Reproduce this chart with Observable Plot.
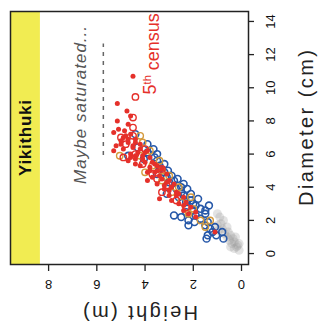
<!DOCTYPE html>
<html><head><meta charset="utf-8">
<script src="https://cdn.jsdelivr.net/npm/d3@7"></script>
<script src="https://cdn.jsdelivr.net/npm/@observablehq/plot@0.6"></script>
<style>
html,body{margin:0;padding:0;background:#fff;}
#wrap{position:relative;width:324px;height:334px;overflow:hidden;background:#fff;}
#wrap svg{position:absolute;left:-5px;top:5px;width:334px;height:324px;max-width:none !important;transform:rotate(-90deg);transform-origin:50% 50%;}
</style></head><body><div id="wrap"></div>
<script>
// Axis ticks
const diamTicks = [0, 2, 4, 6, 8, 10, 12, 14];
const heightTicks = [0, 2, 4, 6, 8];
const xDomain = [-0.66, 14.6];
const yDomain = [-0.29, 9.58];
const stripFrom = 8.34;          // yellow site strip (height)
const satHeight = 5.73;          // "maybe saturated" line
const satDiam = [5.97, 12.7];

// Censuses: [diameter (cm), height (m)]
const census1 = [[0.2,0.1],[0.3,0.3],[0.4,0.2],[0.5,0.15],[0.6,0.4],[0.7,0.3],[0.8,0.5],[0.9,0.35],[1.0,0.6],[1.1,0.45],[1.2,0.7],[1.3,0.55],[1.5,0.8],[1.6,0.6],[1.8,0.85],[2.0,0.75],[2.2,0.9],[0.4,0.45],[1.4,0.95],[0.6,0.1],[1.0,0.25],[1.7,1.0],[2.4,1.0]];
const census2 = [[0.9,0.75],[0.9,1.45],[1.1,1.05],[1.3,1.2],[1.3,0.8],[1.6,1.1],[1.7,1.5],[1.7,2.2],[1.9,1.95],[2.1,1.7],[2.2,2.5],[2.4,1.5],[2.6,1.5],[2.6,2.0],[2.9,1.35],[2.9,1.9],[3.1,2.3],[3.3,1.8],[3.4,2.6],[3.6,2.1],[3.9,2.25],[3.9,2.7],[4.2,2.4],[4.3,3.0],[4.5,2.65],[4.7,2.9],[5.0,3.05],[5.1,3.4],[5.4,3.2],[5.6,3.5],[5.7,4.05],[6.0,3.5],[6.3,3.65],[6.6,3.9],[7.2,4.4],[5.9,4.7],[6.4,4.3],[4.8,3.5],[3.6,3.1],[2.3,2.8],[1.5,1.3],[1.9,1.4],[2.3,1.9],[2.7,1.7],[3.0,2.0],[3.2,2.1],[3.5,2.4],[3.7,2.5],[4.0,2.5],[4.4,2.8],[4.6,3.1],[4.9,3.2],[5.3,3.4],[5.8,3.6],[6.1,3.9],[2.0,2.2],[1.1,1.4],[2.5,2.3]];
const census3 = [[1.6,1.5],[2.0,1.7],[2.4,2.2],[2.7,2.0],[3.1,2.5],[3.4,2.1],[3.7,2.9],[4.0,2.6],[4.4,3.3],[4.7,3.0],[5.0,3.3],[5.3,3.7],[5.6,3.4],[5.9,4.2],[6.2,3.8],[6.7,4.1],[7.1,4.2],[4.9,4.0],[5.9,5.05],[2.0,1.3]];
const census4 = [[9.45,4.4],[8.2,4.5],[7.6,4.5],[7.1,4.5],[6.6,4.8],[6.0,4.4],[5.4,4.1],[4.8,3.7],[4.1,3.1],[3.7,3.3],[3.2,2.7],[2.8,2.3],[6.3,4.0],[5.1,3.3],[7.0,5.0],[5.8,4.9],[4.5,3.5]];
const census5 = [[1.3,1.1],[2.2,1.9],[2.4,2.2],[2.6,2.4],[2.8,2.1],[3.0,2.6],[3.2,2.9],[3.4,2.4],[3.5,3.0],[3.7,2.7],[3.9,3.2],[4.0,2.9],[4.2,3.5],[4.3,3.1],[4.5,3.3],[4.6,3.7],[4.8,3.1],[4.9,3.9],[5.0,3.5],[5.2,3.8],[5.3,4.2],[5.4,3.6],[5.5,4.0],[5.7,4.4],[5.8,3.8],[5.9,4.1],[6.0,4.6],[6.1,4.3],[6.2,3.9],[6.3,4.9],[6.4,4.5],[6.5,5.2],[6.6,4.2],[6.7,4.7],[6.8,5.0],[6.9,4.4],[7.0,4.9],[7.2,4.6],[7.4,4.85],[7.5,5.1],[7.8,4.7],[8.0,5.15],[8.3,4.6],[8.6,4.75],[9.05,5.15],[10.7,4.5],[6.2,5.3],[5.6,4.7],[4.4,3.9],[3.3,3.4],[7.3,5.3],[3.1,2.3],[3.6,2.6],[3.8,3.0],[4.1,3.2],[4.4,3.0],[4.7,3.4],[5.0,3.8],[5.1,3.3],[5.3,3.5],[5.5,3.7],[5.7,4.1],[5.9,4.4],[6.1,4.0],[6.3,4.2],[6.5,4.5],[6.7,4.4],[6.9,4.7],[7.1,4.8],[5.4,4.4],[4.9,3.6],[4.2,2.8],[3.5,2.7],[2.9,2.4],[2.5,1.9],[5.8,4.6],[6.6,5.0]];

const siteName = "Yikithuki";
const font = "Liberation Sans, Arial, Helvetica, sans-serif";
const red = "#e5302a", blue = "#2557a8", ochre = "#d49a3c";

const svg = Plot.plot({
  width: 334, height: 324,
  marginLeft: 69, marginRight: 12, marginTop: 10, marginBottom: 76,
  x: {domain: xDomain},
  y: {domain: yDomain},
  style: {fontFamily: font, background: "#fff", color: "#111", overflow: "visible"},
  marks: [
    Plot.rect([0], {x1: xDomain[0], x2: xDomain[1], y1: stripFrom, y2: yDomain[1], fill: "#f1ec52"}),
    Plot.text([siteName], {frameAnchor: "top", dy: 15, lineAnchor: "middle", textAnchor: "middle", text: d => d, fontSize: 17, fontWeight: "bold", fill: "#111"}),
    Plot.ruleY([satHeight], {x1: satDiam[0], x2: satDiam[1], stroke: "#666", strokeWidth: 1.5, strokeDasharray: "4,5"}),
    Plot.text(["Maybe saturated..."], {x: 4.2, y: 6.68, text: d => d, textAnchor: "start", fontSize: 17, fontStyle: "italic", fill: "#555"}),
    Plot.text(["5th census"], {x: 14.5, y: 3.78, text: d => d, textAnchor: "end", fontSize: 18, fill: red}),
    Plot.dot(census1, {x: d => d[0], y: d => d[1], r: 4.5, fill: "#9a9a9a", fillOpacity: 0.28, stroke: "none"}),
    Plot.dot(census2, {x: d => d[0], y: d => d[1], r: 3.4, stroke: blue, strokeWidth: 1.6, fill: "none"}),
    Plot.dot(census3, {x: d => d[0], y: d => d[1], r: 3.2, stroke: ochre, strokeWidth: 1.4, fill: "none"}),
    Plot.dot(census4, {x: d => d[0], y: d => d[1], r: 3.2, stroke: red, strokeWidth: 1.4, fill: "none"}),
    Plot.dot(census5, {x: d => d[0], y: d => d[1], r: 2.5, fill: red, stroke: "none"}),
    Plot.frame({stroke: "#222", strokeWidth: 1.5}),
    Plot.axisX({ticks: diamTicks, tickSize: 6, tickPadding: 11, fontSize: 13, label: null, stroke: "#222", strokeWidth: 1.3}),
    Plot.axisY({ticks: heightTicks, tickSize: 6, tickFormat: () => "", label: null, stroke: "#222", strokeWidth: 1.3}),
    Plot.text(heightTicks, {y: d => d, frameAnchor: "left", dx: -20, rotate: -90, textAnchor: "middle", lineAnchor: "middle", text: d => String(d), fontSize: 13, fill: "#111"}),
    Plot.text(["Diameter (cm)"], {frameAnchor: "bottom", dx: 10, dy: 58, textAnchor: "middle", lineAnchor: "middle", text: d => d, fontSize: 20, fill: "#222"}),
    Plot.text(["Height (m)"], {frameAnchor: "left", dx: -48, dy: 11, rotate: -90, textAnchor: "middle", lineAnchor: "middle", text: d => d, fontSize: 20, fill: "#222"})
  ]
});

const root = d3.select(svg);
const lengths = {"Diameter (cm)": 156, "Height (m)": 115, "Maybe saturated...": 158, "Yikithuki": 76};
root.selectAll("text").each(function () {
  const t = this.textContent;
  if (lengths[t]) d3.select(this).attr("textLength", lengths[t]).attr("lengthAdjust", "spacing");
  if (t === "5th census") {
    const el = d3.select(this);
    el.text(null);
    el.append("tspan").text("5");
    el.append("tspan").attr("dy", "-0.45em").attr("font-size", "11px").text("th");
    el.append("tspan").attr("dy", "0.45em").text(" census");
  }
});
document.getElementById("wrap").append(svg);
</script>
</body></html>
